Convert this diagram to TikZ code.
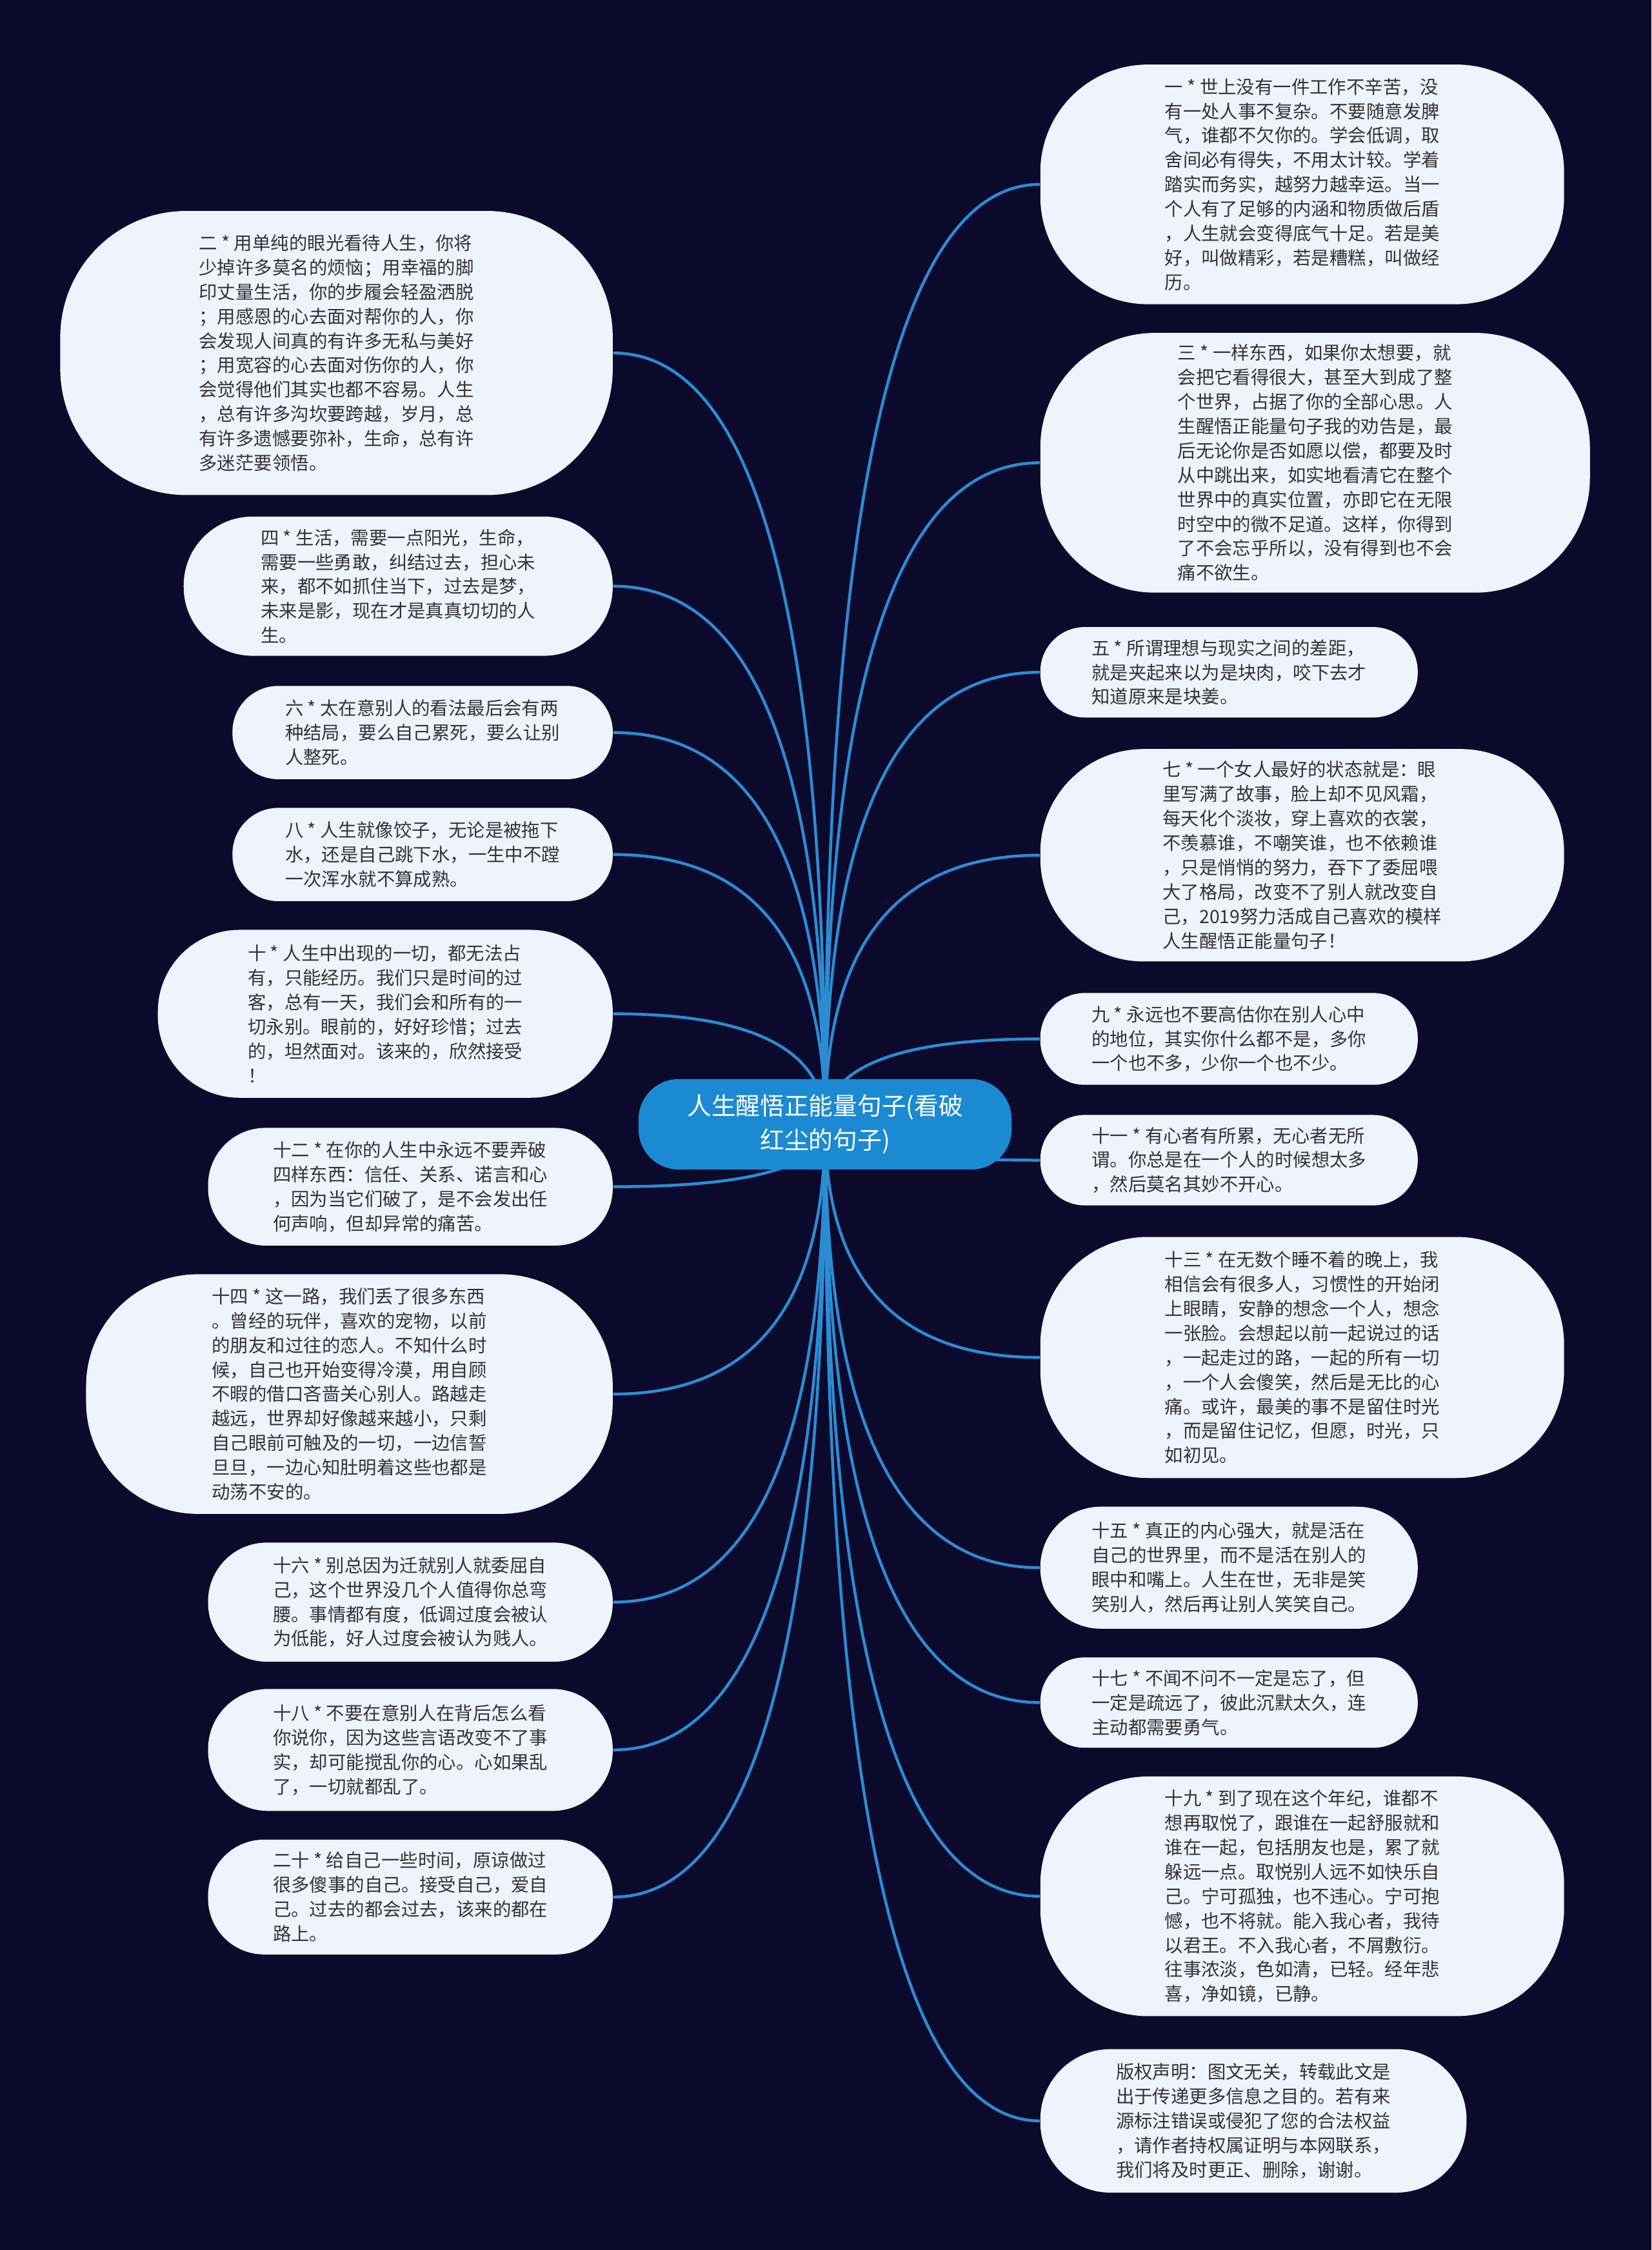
\documentclass[tikz,border=0pt]{standalone}
\usepackage{fontspec}
\newfontfamily\cjk{Noto Sans CJK SC}
\usetikzlibrary{calc}
\definecolor{bgc}{HTML}{0C0A2C}
\definecolor{bubfill}{HTML}{EEF4FD}
\definecolor{bubtext}{HTML}{333333}
\definecolor{rootfill}{HTML}{1B8AD3}
\definecolor{edgec}{HTML}{2B8CD4}
\pgfdeclarelayer{edges}
\pgfsetlayers{edges,main}
\tikzset{
  bub/.style={fill=bubfill, draw=none, text=bubtext, align=left, inner sep=0pt,
    font={\cjk\fontsize{7.27pt}{9.7pt}\selectfont}},
  rootbox/.style={fill=rootfill, draw=none, text=white, align=center, inner sep=0pt,
    font={\cjk\fontsize{9.65pt}{13.6pt}\selectfont}},
  conn/.style={draw=edgec, line width=1.15pt}
}
\newcommand\bubble[7]{%
  \node[bub, minimum width={#4*0.02cm}, minimum height={#5*0.02cm}, rounded corners={#6*0.02cm}] (#1) at (#2,#3) {#7};}
\newcommand\redge[1]{\draw[conn] (root.center) .. controls ($(root.center)!0.6667!(root.center|-#1.west)$) and ($(#1.west)!0.6667!(root.center|-#1.west)$) .. (#1.west);}
\newcommand\ledge[1]{\draw[conn] (root.center) .. controls ($(root.center)!0.6667!(root.center|-#1.east)$) and ($(#1.east)!0.6667!(root.center|-#1.east)$) .. (#1.east);}
\begin{document}
\begin{tikzpicture}[x=0.02cm, y=-0.02cm]
\useasboundingbox (0,0) rectangle (1151,1568);

\node[rootbox, minimum width={260*0.02cm}, minimum height={63*0.02cm}, rounded corners={28*0.02cm}] (root) at (575,783.5) {人生醒悟正能量句子(看破\\红尘的句子)};

% right side
\bubble{r1}{907.5}{128.5}{365}{167}{75}{一 * 世上没有一件工作不辛苦，没\\
有一处人事不复杂。不要随意发脾\\
气，谁都不欠你的。学会低调，取\\
舍间必有得失，不用太计较。学着\\
踏实而务实，越努力越幸运。当一\\
个人有了足够的内涵和物质做后盾\\
，人生就会变得底气十足。若是美\\
好，叫做精彩，若是糟糕，叫做经\\
历。}
\bubble{r3}{916.5}{322.5}{383}{181}{80}{三 * 一样东西，如果你太想要，就\\
会把它看得很大，甚至大到成了整\\
个世界，占据了你的全部心思。人\\
生醒悟正能量句子我的劝告是，最\\
后无论你是否如愿以偿，都要及时\\
从中跳出来，如实地看清它在整个\\
世界中的真实位置，亦即它在无限\\
时空中的微不足道。这样，你得到\\
了不会忘乎所以，没有得到也不会\\
痛不欲生。}
\bubble{r5}{856.5}{468.5}{263}{63}{31}{五 * 所谓理想与现实之间的差距，\\
就是夹起来以为是块肉，咬下去才\\
知道原来是块姜。}
\bubble{r7}{907.5}{596}{365}{148}{72}{七 * 一个女人最好的状态就是：眼\\
里写满了故事，脸上却不见风霜，\\
每天化个淡妆，穿上喜欢的衣裳，\\
不羡慕谁，不嘲笑谁，也不依赖谁\\
，只是悄悄的努力，吞下了委屈喂\\
大了格局，改变不了别人就改变自\\
己，2019努力活成自己喜欢的模样\\
人生醒悟正能量句子！}
\bubble{r9}{856.5}{724}{263}{64}{31}{九 * 永远也不要高估你在别人心中\\
的地位，其实你什么都不是，多你\\
一个也不多，少你一个也不少。}
\bubble{r11}{856.5}{808.5}{263}{63}{31}{十一 * 有心者有所累，无心者无所\\
谓。你总是在一个人的时候想太多\\
，然后莫名其妙不开心。}
\bubble{r13}{907.5}{946}{365}{168}{75}{十三 * 在无数个睡不着的晚上，我\\
相信会有很多人，习惯性的开始闭\\
上眼睛，安静的想念一个人，想念\\
一张脸。会想起以前一起说过的话\\
，一起走过的路，一起的所有一切\\
，一个人会傻笑，然后是无比的心\\
痛。或许，最美的事不是留住时光\\
，而是留住记忆，但愿，时光，只\\
如初见。}
\bubble{r15}{856.5}{1092.5}{263}{85}{42}{十五 * 真正的内心强大，就是活在\\
自己的世界里，而不是活在别人的\\
眼中和嘴上。人生在世，无非是笑\\
笑别人，然后再让别人笑笑自己。}
\bubble{r17}{856.5}{1186.5}{263}{63}{31}{十七 * 不闻不问不一定是忘了，但\\
一定是疏远了，彼此沉默太久，连\\
主动都需要勇气。}
\bubble{r19}{907.5}{1321.5}{365}{167}{75}{十九 * 到了现在这个年纪，谁都不\\
想再取悦了，跟谁在一起舒服就和\\
谁在一起，包括朋友也是，累了就\\
躲远一点。取悦别人远不如快乐自\\
己。宁可孤独，也不违心。宁可抱\\
憾，也不将就。能入我心者，我待\\
以君王。不入我心者，不屑敷衍。\\
往事浓淡，色如清，已轻。经年悲\\
喜，净如镜，已静。}
\bubble{r21}{873.5}{1478}{297}{100}{49}{版权声明：图文无关，转载此文是\\
出于传递更多信息之目的。若有来\\
源标注错误或侵犯了您的合法权益\\
，请作者持权属证明与本网联系，\\
我们将及时更正、删除，谢谢。}

% left side
\bubble{l2}{234.5}{246}{385}{198}{88}{二 * 用单纯的眼光看待人生，你将\\
少掉许多莫名的烦恼；用幸福的脚\\
印丈量生活，你的步履会轻盈洒脱\\
；用感恩的心去面对帮你的人，你\\
会发现人间真的有许多无私与美好\\
；用宽容的心去面对伤你的人，你\\
会觉得他们其实也都不容易。人生\\
，总有许多沟坎要跨越，岁月，总\\
有许多遗憾要弥补，生命，总有许\\
多迷茫要领悟。}
\bubble{l4}{277.5}{408.5}{299}{97}{48}{四 * 生活，需要一点阳光，生命，\\
需要一些勇敢，纠结过去，担心未\\
来，都不如抓住当下，过去是梦，\\
未来是影，现在才是真真切切的人\\
生。}
\bubble{l6}{294.5}{510.5}{265}{65}{32}{六 * 太在意别人的看法最后会有两\\
种结局，要么自己累死，要么让别\\
人整死。}
\bubble{l8}{294.5}{595.5}{265}{65}{32}{八 * 人生就像饺子，无论是被拖下\\
水，还是自己跳下水，一生中不蹚\\
一次浑水就不算成熟。}
\bubble{l10}{268.5}{706.5}{317}{117}{57}{十 * 人生中出现的一切，都无法占\\
有，只能经历。我们只是时间的过\\
客，总有一天，我们会和所有的一\\
切永别。眼前的，好好珍惜；过去\\
的，坦然面对。该来的，欣然接受\\
！}
\bubble{l12}{286}{827}{282}{82}{40}{十二 * 在你的人生中永远不要弄破\\
四样东西：信任、关系、诺言和心\\
，因为当它们破了，是不会发出任\\
何声响，但却异常的痛苦。}
\bubble{l14}{243.5}{971.5}{367}{167}{78}{十四 * 这一路，我们丢了很多东西\\
。曾经的玩伴，喜欢的宠物，以前\\
的朋友和过往的恋人。不知什么时\\
候，自己也开始变得冷漠，用自顾\\
不暇的借口吝啬关心别人。路越走\\
越远，世界却好像越来越小，只剩\\
自己眼前可触及的一切，一边信誓\\
旦旦，一边心知肚明着这些也都是\\
动荡不安的。}
\bubble{l16}{286}{1116.5}{282}{83}{41}{十六 * 别总因为迁就别人就委屈自\\
己，这个世界没几个人值得你总弯\\
腰。事情都有度，低调过度会被认\\
为低能，好人过度会被认为贱人。}
\bubble{l18}{286}{1219.5}{282}{85}{42}{十八 * 不要在意别人在背后怎么看\\
你说你，因为这些言语改变不了事\\
实，却可能搅乱你的心。心如果乱\\
了，一切就都乱了。}
\bubble{l20}{286}{1322}{282}{80}{39}{二十 * 给自己一些时间，原谅做过\\
很多傻事的自己。接受自己，爱自\\
己。过去的都会过去，该来的都在\\
路上。}

\begin{pgfonlayer}{edges}
\fill[bgc] (0,0) rectangle (1151,1568);
\redge{r1}\redge{r3}\redge{r5}\redge{r7}\redge{r9}\redge{r11}
\redge{r13}\redge{r15}\redge{r17}\redge{r19}\redge{r21}
\ledge{l2}\ledge{l4}\ledge{l6}\ledge{l8}\ledge{l10}
\ledge{l12}\ledge{l14}\ledge{l16}\ledge{l18}\ledge{l20}
\end{pgfonlayer}
\end{tikzpicture}
\end{document}
